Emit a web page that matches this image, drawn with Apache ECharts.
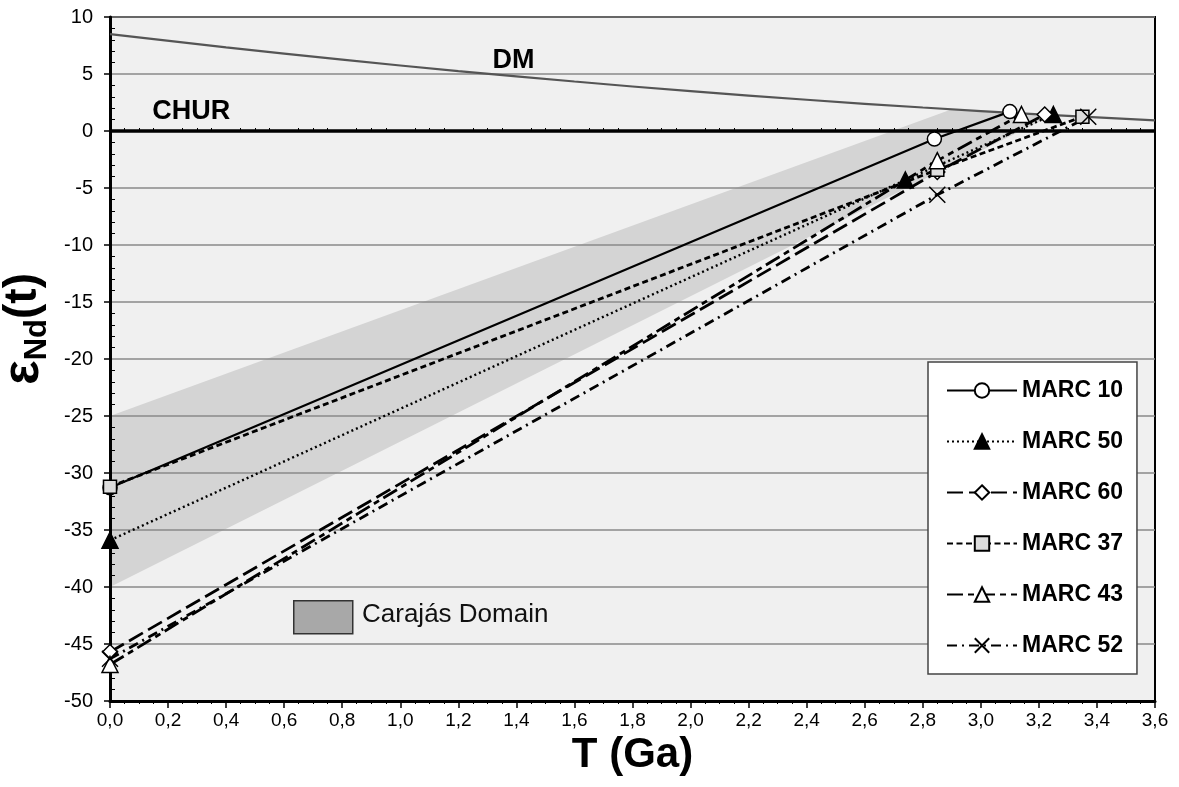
<!DOCTYPE html>
<html>
<head>
<meta charset="utf-8">
<script src="https://cdn.jsdelivr.net/npm/echarts@6/dist/echarts.min.js"></script>
<style>
  html, body { margin: 0; padding: 0; background: #fff; }
  #chart { width: 1179px; height: 787px; }
</style>
</head>
<body>
<div id="chart"></div>
<script>
// depleted mantle curve (DM)
const dmT = [0, 0.4, 0.8, 1.2, 1.6, 2.0, 2.4, 2.8, 3.2, 3.6];
const dmE = [8.5, 7.34, 6.26, 5.26, 4.34, 3.5, 2.74, 2.06, 1.46, 0.94];

// Carajás domain field (outline)
const bandT = [0, 2.9, 3.1, 3.25, 0];
const bandE = [-25, 1.9, 1.6, 1.45, -40];

// samples: T (Ga) and eNd(t)
const samples = ["MARC 10", "MARC 50", "MARC 60", "MARC 37", "MARC 43", "MARC 52"];
const sampleT = [
  [0, 2.84, 3.10],
  [0, 2.74, 3.25],
  [0, 2.85, 3.22],
  [0, 2.85, 3.35],
  [0, 2.85, 3.14],
  [0, 2.85, 3.37]
];
const sampleE = [
  [-31.3, -0.7, 1.7],
  [-35.9, -4.3, 1.45],
  [-45.7, -3.6, 1.45],
  [-31.2, -3.4, 1.25],
  [-46.8, -2.6, 1.45],
  [-46.3, -5.6, 1.25]
];

const FONT = '"Liberation Sans", Arial, sans-serif';

// line / marker look of each sample
const marks = [
  { symbol: "circle", size: 14, fill: "#fff", dash: "solid", width: 2.2 },
  { symbol: "triangle", size: 16, fill: "#000", dash: [2, 3], width: 2.4 },
  { symbol: "diamond", size: 15, fill: "#fff", dash: [16, 6], width: 2.8 },
  { symbol: "rect", size: 13, fill: "#ddd", dash: [6, 3.5], width: 2.8 },
  { symbol: "triangle", size: 16, fill: "#fff", dash: [16, 5, 6, 5], width: 2.8 },
  { symbol: "path://M0,0L10,10M10,0L0,10", size: 16, fill: "#000", dash: [10, 5, 2, 5], width: 2.8 }
];

const chart = echarts.init(document.getElementById("chart"));

const sampleSeries = samples.map((name, i) => ({
  name: name,
  type: "line",
  z: 4,
  data: sampleT[i].map((t, j) => [t, sampleE[i][j]]),
  symbol: marks[i].symbol,
  symbolSize: marks[i].size,
  itemStyle: { color: marks[i].fill, borderColor: "#000", borderWidth: 1.5 },
  lineStyle: { color: "#000", width: marks[i].width, type: marks[i].dash },
  emphasis: { disabled: true }
}));

const option = {
  animation: false,
  textStyle: { fontFamily: FONT },
  grid: {
    left: 110, right: 24, top: 17, bottom: 86,
    outerBoundsMode: "none", containLabel: false,
    show: true, backgroundColor: "#f0f0f0", borderColor: "#000", borderWidth: 2, z: 0
  },
  xAxis: [
    {
      type: "value", min: 0, max: 3.6, interval: 0.2, position: "bottom", z: 2,
      axisLine: { onZero: false, lineStyle: { color: "#000", width: 3 } },
      axisTick: { length: 7, lineStyle: { color: "#000", width: 1.5 } },
      minorTick: { show: true, splitNumber: 4, length: 3, lineStyle: { color: "#000", width: 1 } },
      splitLine: { show: false },
      axisLabel: {
        fontSize: 19, color: "#000", margin: 10,
        formatter: (v) => v.toFixed(1).replace(".", ",")
      },
      name: "T (Ga)", nameLocation: "middle", nameGap: 31,
      nameTextStyle: { fontSize: 42, fontWeight: "bold", color: "#000" }
    },
    {
      type: "value", min: 0, max: 3.6, interval: 0.2, position: "bottom", z: 2,
      axisLine: { show: false },
      axisTick: { show: false, inside: true },
      minorTick: { show: true, splitNumber: 4, length: 3, lineStyle: { color: "#000", width: 1 } },
      splitLine: { show: false },
      axisLabel: { show: false }
    }
  ],
  yAxis: [
    {
      type: "value", min: -50, max: 10, interval: 5, position: "left", z: 2,
      axisLine: { onZero: false, lineStyle: { color: "#000", width: 3 } },
      axisTick: { length: 6, lineStyle: { color: "#000", width: 1.5 } },
      splitLine: { lineStyle: { color: "#8a8a8a", width: 1.5 } },
      axisLabel: { fontSize: 20, color: "#000", margin: 17 },
      name: "{e|ε}{s|Nd}{t|(t)}",
      nameLocation: "middle", nameRotate: 90, nameGap: 52,
      nameTextStyle: {
        padding: [0, 0, 0, 60],
        rich: {
          e: { fontSize: 52, fontWeight: "bold", color: "#000", lineHeight: 60, verticalAlign: "middle" },
          s: { fontSize: 31, fontWeight: "bold", color: "#000", lineHeight: 31, verticalAlign: "bottom" },
          t: { fontSize: 46, fontWeight: "bold", color: "#000", lineHeight: 60, verticalAlign: "middle" }
        }
      }
    },
    {
      type: "value", min: -50, max: 10, interval: 5, position: "left", z: 2,
      axisLine: { show: false },
      axisTick: { show: false, inside: true },
      minorTick: { show: true, splitNumber: 5, length: 5, lineStyle: { color: "#000", width: 1 } },
      splitLine: { show: false },
      axisLabel: { show: false }
    }
  ],
  legend: {
    data: samples,
    orient: "vertical",
    left: 928, top: 362,
    backgroundColor: "#fff", borderColor: "#444", borderWidth: 1.5, borderRadius: 0,
    padding: [16, 14, 16, 18],
    itemGap: 26, itemWidth: 70, itemHeight: 18,
    selectedMode: false,
    textStyle: {
      fontSize: 23, fontWeight: "bold", color: "#000", lineHeight: 25,
      fontFamily: '"Liberation Sans Narrow", "Liberation Sans", Arial, sans-serif'
    }
  },
  graphic: [
    {
      type: "rect", left: 293, top: 600,
      shape: { width: 59, height: 33 },
      style: { fill: "#a8a8a8", stroke: "#333", lineWidth: 1.5 }
    },
    {
      type: "text", left: 362, top: 602,
      style: { text: "Carajás Domain", fontSize: 26, fill: "#111", fontFamily: FONT }
    }
  ],
  series: [
    {
      type: "custom", z: 1, silent: true,
      data: [[0, 0]],
      renderItem: (params, api) => ({
        type: "polygon",
        shape: { points: bandT.map((t, i) => api.coord([t, bandE[i]])) },
        style: { fill: "#d4d4d4" }
      })
    },
    {
      name: "CHUR", type: "line", z: 3, symbol: "none", silent: true,
      data: [[0, 0], [3.6, 0]],
      lineStyle: { color: "#000", width: 3.5 }
    },
    {
      name: "DM", type: "line", z: 3, symbol: "none", silent: true, smooth: true,
      data: dmT.map((t, i) => [t, dmE[i]]),
      lineStyle: { color: "#555", width: 2.2 }
    },
    {
      type: "scatter", z: 5, symbolSize: 0, silent: true,
      itemStyle: { opacity: 1 },
      data: [
        { name: "DM", value: [1.39, 6.2] },
        { name: "CHUR", value: [0.28, 1.75] }
      ],
      label: {
        show: true, position: [0, 0], align: "center", verticalAlign: "middle", opacity: 1,
        formatter: "{b}", fontSize: 27, fontWeight: "bold", color: "#000"
      }
    }
  ].concat(sampleSeries)
};

chart.setOption(option);
</script>
</body>
</html>
